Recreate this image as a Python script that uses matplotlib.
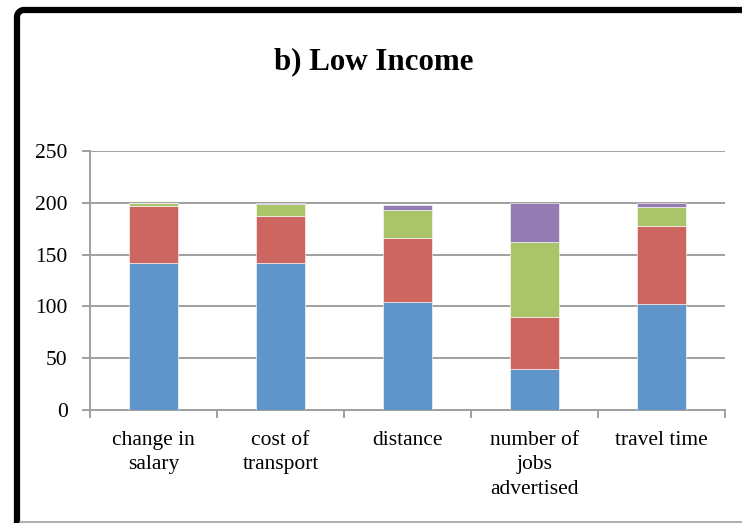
import matplotlib.pyplot as plt
from matplotlib.lines import Line2D
import numpy as np

plt.rcParams['font.family'] = ['Liberation Serif', 'DejaVu Serif']

categories = ["change in\nsalary", "cost of\ntransport", "distance",
              "number of\njobs\nadvertised", "travel time"]
series_1 = [142, 142, 104, 40, 102]
series_2 = [55, 45, 62, 50, 76]
series_3 = [3, 12, 27, 72, 18]
series_4 = [0, 1, 5, 38, 4]
colors = ["#5F95C8", "#CD6660", "#AAC46A", "#947BB2"]


def plot_chart():
    fig = plt.figure(figsize=(7.42, 5.23), dpi=100)
    ax = fig.add_axes([90 / 742, 1 - 410 / 523, 635 / 742, 259 / 523])

    x = np.arange(len(categories))
    bottom = np.zeros(len(categories))
    for vals, c in zip([series_1, series_2, series_3, series_4], colors):
        ax.bar(x, vals, width=0.38, bottom=bottom, color=c,
               edgecolor="#FFFFFF", linewidth=0.4, zorder=3)
        bottom += np.array(vals)

    ax.set_xlim(-0.5, len(categories) - 0.5)
    ax.set_ylim(0, 250)
    ax.set_yticks(range(0, 251, 50))
    ax.yaxis.grid(True, color="#A0A0A0", linewidth=1.4, zorder=0)
    ax.set_axisbelow(True)

    ax.set_xticks(x)
    ax.set_xticklabels(categories, fontsize=15.5, linespacing=1.4)
    ax.set_xticks(np.arange(-0.5, len(categories)), minor=True)
    ax.tick_params(axis="x", which="major", length=0, pad=15)
    ax.tick_params(axis="x", which="minor", length=6, width=1.4, color="#A0A0A0")
    ax.tick_params(axis="y", length=6, width=1.4, color="#A0A0A0",
                   labelsize=15.5, pad=10)

    for side in ["top", "right"]:
        ax.spines[side].set_visible(False)
    for side in ["left", "bottom"]:
        ax.spines[side].set_color("#A0A0A0")
        ax.spines[side].set_linewidth(1.4)

    fig.text(374 / 742, 1 - 62 / 523, "b) Low Income", ha="center", va="center",
             fontsize=22.3, fontweight="bold")

    # black frame: left side and top, rounded corner (pixel coords)
    W, H = 742, 523
    xl, yt, r = 17, 10, 7
    t = np.linspace(0, np.pi / 2, 20)
    fx = [xl] + list(xl + r - r * np.cos(t)) + [W + 20]
    fy = [H + 20] + list(yt + r - r * np.sin(t)) + [yt]
    fig.add_artist(Line2D(np.array(fx) / W, 1 - np.array(fy) / H, color="black",
                          linewidth=4.5, solid_capstyle="butt",
                          transform=fig.transFigure))
    fig.add_artist(Line2D([20 / W, 1], [1 - 522 / H] * 2, color="#A0A0A0",
                          linewidth=1.2, transform=fig.transFigure))

    fig.savefig("out.png", dpi=100)


if __name__ == "__main__":
    plot_chart()
